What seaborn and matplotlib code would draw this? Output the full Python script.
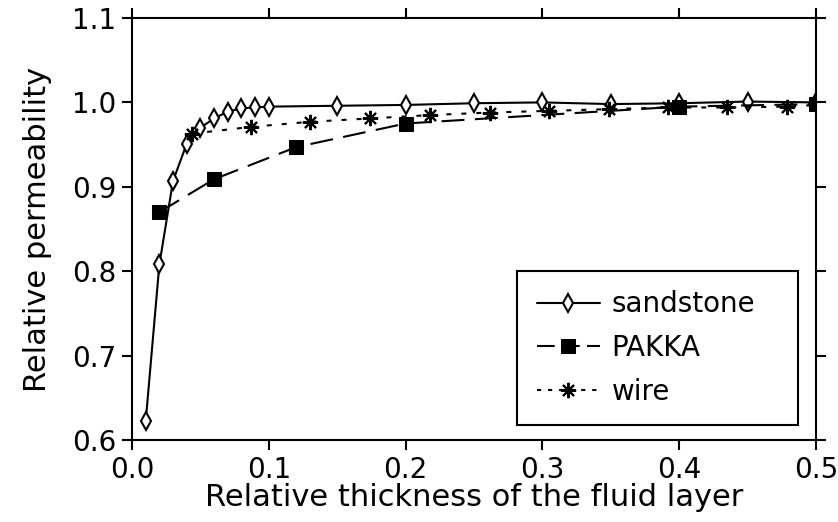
import matplotlib
matplotlib.use("Agg")
import matplotlib.pyplot as plt
import seaborn as sns
import pandas as pd

# data
sand_x = [0.01, 0.02, 0.03, 0.04, 0.05, 0.06, 0.07, 0.08, 0.09, 0.10,
          0.15, 0.20, 0.25, 0.30, 0.35, 0.40, 0.45, 0.50]
sand_y = [0.622, 0.808, 0.907, 0.951, 0.970, 0.981, 0.989, 0.993, 0.994, 0.995,
          0.996, 0.997, 0.999, 1.000, 0.998, 0.999, 1.001, 1.000]
pakka_x = [0.02, 0.06, 0.12, 0.20, 0.40, 0.50]
pakka_y = [0.870, 0.909, 0.947, 0.975, 0.995, 0.998]
wire_x = [0.044, 0.087, 0.130, 0.174, 0.218, 0.262, 0.305, 0.349, 0.392, 0.435, 0.479, 0.50]
wire_y = [0.963, 0.971, 0.977, 0.981, 0.985, 0.988, 0.990, 0.992, 0.994, 0.994, 0.995, 0.997]
labels = ["sandstone", "PAKKA", "wire"]
xticks = [0.0, 0.1, 0.2, 0.3, 0.4, 0.5]
yticks = [0.6, 0.7, 0.8, 0.9, 1.0, 1.1]

sns.set_theme(style="ticks")
plt.rcParams["font.family"] = ["DejaVu Sans"]
plt.rcParams["text.color"] = "black"
plt.rcParams["axes.labelcolor"] = "black"
plt.rcParams["xtick.color"] = "black"
plt.rcParams["ytick.color"] = "black"

fig = plt.figure(figsize=(8.38, 5.22), dpi=100)
ax = fig.add_axes([132/838, 82/522, 684/838, 422/522])

lw = 1.5
sns.lineplot(x=sand_x, y=sand_y, ax=ax, color="black", lw=lw, marker="d",
             markersize=9, markerfacecolor="white", markeredgecolor="black",
             markeredgewidth=1.5, label=labels[0], estimator=None, sort=False)
sns.lineplot(x=pakka_x, y=pakka_y, ax=ax, color="black", lw=lw, marker="s",
             markersize=10, markerfacecolor="black", markeredgecolor="black",
             dashes=False, label=labels[1], estimator=None, sort=False)
sns.lineplot(x=wire_x, y=wire_y, ax=ax, color="black", lw=lw, marker=(8, 2, 0),
             markersize=11, markeredgewidth=1.5, markeredgecolor="black",
             label=labels[2], estimator=None, sort=False)

lines = ax.get_lines()
lines[1].set_linestyle((0, (11, 5)))
lines[2].set_linestyle((0, (2.4, 4.8)))

ax.set_xlim(0, 0.5)
ax.set_ylim(0.6, 1.1)
ax.set_xticks(xticks)
ax.set_yticks(yticks)
ax.set_xticklabels([f"{v:.1f}" for v in xticks])
ax.set_yticklabels([f"{v:.1f}" for v in yticks])
ax.tick_params(direction="out", length=7.5, width=1.5, labelsize=20, colors="black",
               top=True, right=True, labeltop=False, labelright=False, pad=4)
for s in ax.spines.values():
    s.set_visible(True)
    s.set_linewidth(1.5)
    s.set_color("black")

ax.set_xlabel("Relative thickness of the fluid layer", fontsize=22, labelpad=-1, color="black")
ax.set_ylabel("Relative permeability", fontsize=22, labelpad=14, color="black")

leg = ax.legend(loc="upper left", bbox_to_anchor=(0.563, 0.4005, 0.411, 0.0),
                mode="expand", fontsize=20, frameon=True, fancybox=False,
                framealpha=1, edgecolor="black", handlelength=2.3,
                handletextpad=0.4, borderpad=0.7, labelspacing=0.56,
                borderaxespad=0, numpoints=1)
leg.get_frame().set_linewidth(1.5)
for t in leg.get_texts():
    t.set_color("black")
leg_lines = leg.get_lines()
leg_lines[1].set_linestyle((0, (8.5, 3.5)))
leg_lines[2].set_linestyle((0, (2.0, 3.3)))

fig.savefig("out.png", dpi=100)
